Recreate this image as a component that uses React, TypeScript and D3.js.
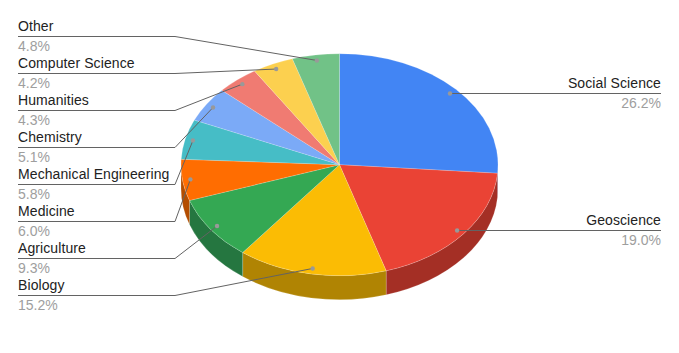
import * as d3 from 'd3';
import React from 'react';

const categories = [
  'Social Science',
  'Geoscience',
  'Biology',
  'Agriculture',
  'Medicine',
  'Mechanical Engineering',
  'Chemistry',
  'Humanities',
  'Computer Science',
  'Other',
];
const shares = [26.2, 19.0, 15.2, 9.3, 6.0, 5.8, 5.1, 4.3, 4.2, 4.8];
const topColors = [
  '#4285f4', '#ea4335', '#fbbc04', '#34a853', '#ff6d01',
  '#46bdc6', '#7baaf7', '#f07b72', '#fcd04f', '#71c287',
];
const sideColors = [
  '#2e5dab', '#a42f25', '#b08403', '#257640', '#b34d01',
  '#317a80', '#5677ad', '#a85650', '#b09237', '#4f885f',
];

const width = 679;
const height = 353;
const cx = 339.5;
const cy = 164.7;
const rx = 158.5;
const ry = 111;
const depth = 24;

const leftX = 18;
const elbowX = 175;
const rightX = 661;

export default function App() {
  const pie = d3
    .pie<number>()
    .sort(null)
    .value((d) => d);
  const slices = pie(shares);

  // the pie is a circle squashed into an ellipse
  const arc = d3.arc<d3.PieArcDatum<number>>().innerRadius(0).outerRadius(rx);
  const px = (a: number, r = 1) => cx + rx * r * Math.sin(a);
  const py = (a: number, r = 1) => cy - ry * r * Math.cos(a);

  // front wall of the disc, only between 90 and 270 degrees
  const wall = (s: d3.PieArcDatum<number>) => {
    const a0 = Math.max(s.startAngle, Math.PI / 2);
    const a1 = Math.min(s.endAngle, (3 * Math.PI) / 2);
    if (a1 <= a0) return null;
    return (
      `M${px(a0)},${py(a0)}A${rx},${ry} 0 0 1 ${px(a1)},${py(a1)}` +
      `L${px(a1)},${py(a1) + depth}A${rx},${ry} 0 0 0 ${px(a0)},${py(a0) + depth}Z`
    );
  };

  const mid = (s: d3.PieArcDatum<number>) => (s.startAngle + s.endAngle) / 2;
  const leftSlices = slices.filter((s) => mid(s) > Math.PI).reverse();
  const rowY = d3
    .scaleLinear()
    .domain([0, leftSlices.length - 1])
    .range([36.5, 295.5]);

  return (
    <svg
      width={width}
      height={height}
      style={{ position: 'absolute', left: 0, top: 0, background: '#fff' }}
      fontFamily="'Liberation Sans', Arial, sans-serif"
      fontSize={14}
    >
      <g>
        {slices.map((s) => {
          const d = wall(s);
          return d ? (
            <path
              key={s.index}
              d={d}
              fill={sideColors[s.index]}
              stroke="#fff"
              strokeOpacity={0.25}
              strokeWidth={0.7}
            />
          ) : null;
        })}
      </g>
      <g transform={`translate(${cx},${cy}) scale(1,${ry / rx})`}>
        {slices.map((s) => (
          <path
            key={s.index}
            d={arc(s) as string}
            fill={topColors[s.index]}
            stroke="#fff"
            strokeOpacity={0.3}
            strokeWidth={0.7}
          />
        ))}
      </g>
      {slices.map((s) => {
        const a = mid(s);
        const dotX = px(a, 0.95);
        const dotY = py(a, 0.95);
        const isLeft = a > Math.PI;
        const y = isLeft ? rowY(leftSlices.indexOf(s)) : Math.floor(dotY) + 0.5;
        const pts = isLeft
          ? `${leftX},${y} ${elbowX},${y} ${dotX},${dotY}`
          : `${rightX},${y} ${dotX},${y}`;
        const tx = isLeft ? leftX : rightX;
        const anchor = isLeft ? 'start' : 'end';
        return (
          <g key={s.index}>
            <polyline points={pts} fill="none" stroke="#636363" strokeWidth={1} />
            <circle cx={dotX} cy={isLeft ? dotY : y} r={2.2} fill="#999" />
            <text x={tx} y={y - 5.5} textAnchor={anchor} fill="#222" letterSpacing={0.09}>
              {categories[s.index]}
            </text>
            <text x={tx} y={y + 14.5} textAnchor={anchor} fill="#9e9e9e">
              {shares[s.index].toFixed(1)}%
            </text>
          </g>
        );
      })}
    </svg>
  );
}
